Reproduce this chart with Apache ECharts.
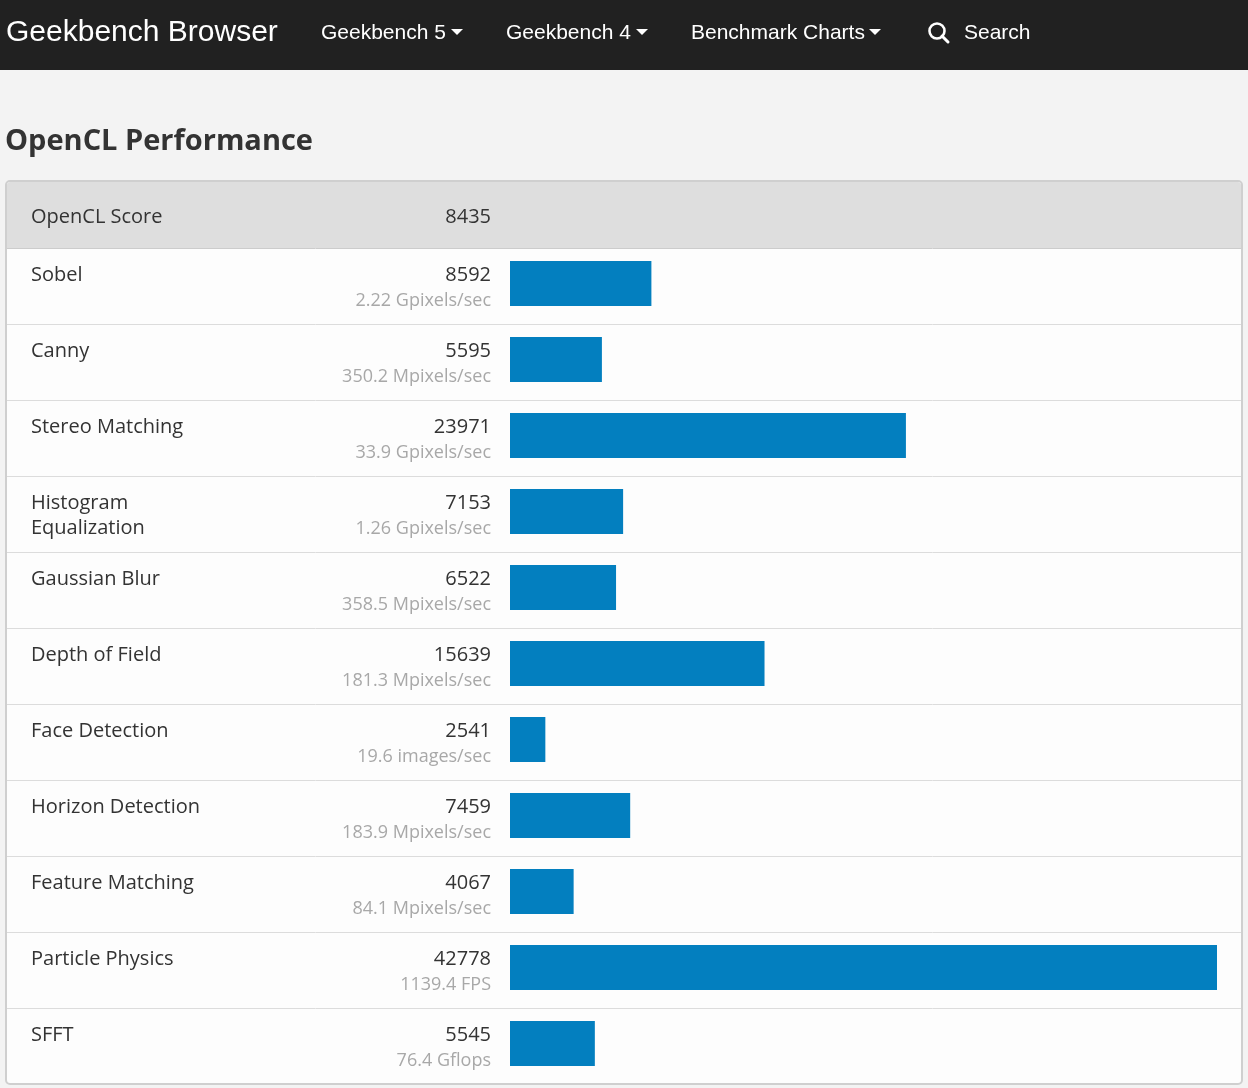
<!DOCTYPE html>
<html lang="en">
<head>
    <meta charset="UTF-8">
    <title>OpenCL Performance</title>
    <script src="https://cdn.jsdelivr.net/npm/echarts@6/dist/echarts.min.js"></script>
    <style>
        html, body { margin: 0; padding: 0; background: #f3f3f3; }
        #chart { width: 1248px; height: 1088px; }
    </style>
</head>
<body>
    <div id="chart"></div>
    <script>
        // data
        const scoreName = 'OpenCL Score';
        const scoreValue = 8435;
        const workloads = ['Sobel', 'Canny', 'Stereo Matching', 'Histogram\nEqualization', 'Gaussian Blur',
            'Depth of Field', 'Face Detection', 'Horizon Detection', 'Feature Matching', 'Particle Physics', 'SFFT'];
        const scores = [8592, 5595, 23971, 7153, 6522, 15639, 2541, 7459, 4067, 42778, 5545];
        const rates = ['2.22 Gpixels/sec', '350.2 Mpixels/sec', '33.9 Gpixels/sec', '1.26 Gpixels/sec',
            '358.5 Mpixels/sec', '181.3 Mpixels/sec', '19.6 images/sec', '183.9 Mpixels/sec',
            '84.1 Mpixels/sec', '1139.4 FPS', '76.4 Gflops'];
        // bar length, percent of the longest bar
        const barPercent = [20, 13, 56, 16, 15, 36, 5, 17, 9, 100, 12];
        const navItems = ['Geekbench 5', 'Geekbench 4', 'Benchmark Charts'];

        const FONT = '"Open Sans", Roboto, sans-serif';
        const NAV_FONT = '"Liberation Sans", Arial, sans-serif';
        const BAR_COLOR = '#037fbf';

        var myChart = echarts.init(document.getElementById('chart'));

        // navbar pieces
        const navX = [321, 506, 691];
        const navW = [125, 125, 173];
        var navGraphics = [];
        navItems.forEach(function (t, i) {
            navGraphics.push({
                type: 'text', x: navX[i], y: 33,
                style: { text: t, fill: '#fff', font: '21px ' + NAV_FONT, verticalAlign: 'middle' }
            });
            var cx = navX[i] + navW[i] + 11;
            navGraphics.push({
                type: 'polygon',
                shape: { points: [[cx - 6, 29], [cx + 6, 29], [cx, 35]] },
                style: { fill: '#fff' }
            });
        });

        var graphics = [
            { type: 'rect', shape: { x: 0, y: 0, width: 1248, height: 70 }, style: { fill: '#212121' } },
            { type: 'text', x: 6, y: 33, style: { text: 'Geekbench Browser', fill: '#fff', font: '30px ' + NAV_FONT, verticalAlign: 'middle' } },
            { type: 'circle', shape: { cx: 937, cy: 31, r: 7.5 }, style: { fill: 'none', stroke: '#fff', lineWidth: 2.6 } },
            { type: 'line', shape: { x1: 942, y1: 36, x2: 948, y2: 42 }, style: { stroke: '#fff', lineWidth: 3, lineCap: 'round' } },
            { type: 'text', x: 964, y: 33, style: { text: 'Search', fill: '#fff', font: '21px ' + NAV_FONT, verticalAlign: 'middle' } },
            // page title
            { type: 'text', x: 5, y: 142, style: { text: 'OpenCL Performance', fill: '#333', font: 'bold 29px ' + FONT, verticalAlign: 'middle' } },
            // table panel
            { type: 'rect', z: -10, shape: { x: 6, y: 181, width: 1236, height: 903, r: 4 },
              style: { fill: '#fdfdfd', stroke: '#cfcfcf', lineWidth: 2 } },
            { type: 'rect', z: -9, shape: { x: 7, y: 182, width: 1234, height: 66, r: [3, 3, 0, 0] }, style: { fill: '#dedede' } },
            { type: 'line', z: -9, shape: { x1: 7, y1: 248.5, x2: 1241, y2: 248.5 }, style: { stroke: '#cccccc', lineWidth: 1 } },
            { type: 'text', x: 31, y: 217, style: { text: scoreName, fill: '#333', font: '20px ' + FONT, verticalAlign: 'middle' } },
            { type: 'text', x: 491, y: 217, style: { text: String(scoreValue), fill: '#333', font: '20px ' + FONT, textAlign: 'right', verticalAlign: 'middle' } }
        ].concat(navGraphics);

        // row separators
        for (var i = 1; i < workloads.length; i++) {
            var y = 249 + i * 76 - 0.5;
            graphics.push({ type: 'line', z: -9, shape: { x1: 7, y1: y, x2: 1241, y2: y }, style: { stroke: '#dcdcdc', lineWidth: 1 } });
        }

        var option = {
            backgroundColor: '#f3f3f3',
            animation: false,
            graphic: graphics,
            grid: { left: 510, right: 31, top: 249, height: 836 },
            xAxis: { type: 'value', min: 0, max: 100, show: false },
            yAxis: { type: 'category', inverse: true, data: workloads, show: false },
            series: [{
                type: 'custom',
                data: barPercent.map(function (v, i) { return [v, i]; }),
                encode: { x: 0, y: 1 },
                renderItem: function (params, api) {
                    var idx = api.value(1);
                    var end = api.coord([api.value(0), idx]);
                    var start = api.coord([0, idx]);
                    var band = api.size([0, 1])[1];
                    var top = end[1] - band / 2;
                    return {
                        type: 'group',
                        children: [
                            { type: 'rect', shape: { x: start[0], y: top + 12, width: end[0] - start[0], height: 45 },
                              style: { fill: BAR_COLOR } },
                            { type: 'text', x: 31, y: top + 13.5,
                              style: { text: workloads[idx], fill: '#333', font: '20px ' + FONT, lineHeight: 25, verticalAlign: 'top' } },
                            { type: 'text', x: 491, y: top + 26,
                              style: { text: String(scores[idx]), fill: '#333', font: '20px ' + FONT, textAlign: 'right', verticalAlign: 'middle' } },
                            { type: 'text', x: 491, y: top + 52,
                              style: { text: rates[idx], fill: '#a8a8a8', font: '18px ' + FONT, textAlign: 'right', verticalAlign: 'middle' } }
                        ]
                    };
                }
            }]
        };

        myChart.setOption(option);
    </script>
</body>
</html>
